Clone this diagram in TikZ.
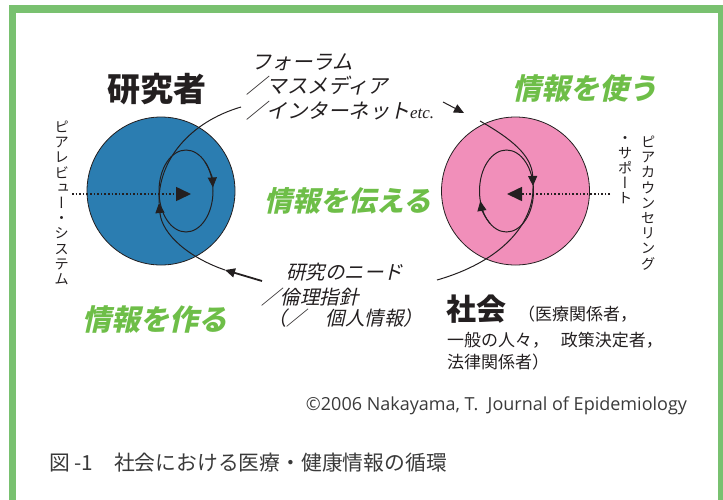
\documentclass[tikz,border=0pt]{standalone}
\usepackage{fontspec}
\usetikzlibrary{arrows.meta,shapes.geometric}
\newfontfamily\cjk{Noto Sans CJK JP}
\newfontfamily\cjksl[FakeSlant=0.22]{Noto Sans CJK JP}
\newfontfamily\cjkv[RawFeature=+vert]{Noto Sans CJK JP}
\newfontfamily\latsans{Open Sans}
\newfontfamily\latserif{Liberation Serif}
\definecolor{ink}{HTML}{231F20}
\definecolor{blueC}{HTML}{2B7DB1}
\definecolor{pinkC}{HTML}{F18FBA}
\definecolor{greenT}{HTML}{6EBE48}
\definecolor{frameG}{HTML}{79C170}
\definecolor{capgray}{HTML}{3A3A3A}
\tikzset{
  bigcircle/.style={circle, draw=ink, line width=0.8pt, minimum size=148pt, inner sep=0pt},
  loop/.style={ellipse, draw=ink, line width=1pt, minimum width=54pt, minimum height=82pt, inner sep=0pt},
  curve/.style={draw=ink, line width=1pt},
  tip/.style={-{Triangle[length=10pt,width=9pt]}},
  dotline/.style={draw=ink, line width=1.6pt, dash pattern=on 1.6pt off 2pt, -{Triangle[length=15pt,width=14pt]}},
  greentext/.style={font=\cjksl\bfseries\fontsize{29}{29}\selectfont, text=greenT},
  slanttext/.style={anchor=base west, font=\cjksl\fontsize{20.5}{24}\selectfont},
  needtext/.style={anchor=base west, font=\cjksl\fontsize{19.5}{23}\selectfont},
  vtext/.style={anchor=north, align=center, font=\cjkv\fontsize{14.5}{15.2}\selectfont},
  soctext/.style={anchor=base west, font=\cjk\fontsize{17}{22}\selectfont},
}
\begin{document}
\begin{tikzpicture}[x=1pt,y=-1pt, every node/.style={inner sep=0pt, outer sep=0pt, text=ink}]
\useasboundingbox (0,0) rectangle (723,499);
\clip (0,0) rectangle (723,499);
% frame
\draw[frameG, line width=7.5pt] (12.5,9) rectangle (722,503.5);

% circles
\node[bigcircle, fill=blueC] (blue) at (161,191) {};
\node[bigcircle, fill=pinkC] (pink) at (515.5,191) {};
\node[loop] (bloop) at (186,191) {};
\node[loop] (ploop) at (506.5,191) {};

% arrows on inner loops
\draw[curve, tip] ([shift={(186,191)}]-45:27 and 41) arc[start angle=-45, end angle=-5, x radius=27, y radius=41];
\draw[curve, tip] ([shift={(506.5,191)}]128:27 and 41) arc[start angle=128, end angle=166, x radius=27, y radius=41];

% dotted arrows
\coordinate (bpeer) at (72,194);
\coordinate (btip) at (191,194);
\coordinate (ppeer) at (610,194);
\coordinate (ptip) at (507,194);
\draw[dotline] (bpeer) -- (btip);
\draw[dotline] (ppeer) -- (ptip);

% outgoing from researchers
\coordinate (b1) at (225,270);
\coordinate (b2) at (159,203);
\coordinate (b3) at (241,107);
\draw[curve, tip] (b1) .. controls (190,258) and (162,235) .. (b2);
\draw[curve] (b2) .. controls (158,160) and (190,122) .. (b3);
\coordinate (e1) at (443,102);
\coordinate (e2) at (464,113);
\draw[curve, tip] (e1) -- (e2);

% society loop
\coordinate (p1) at (480,121);
\coordinate (p2) at (533,186);
\coordinate (p3) at (437,280);
\draw[curve, tip] (p1) .. controls (510,138) and (532,155) .. (p2);
\draw[curve] (p2) .. controls (534,225) and (500,262) .. (p3);
\coordinate (n1) at (262,281);
\draw[draw=ink, line width=1.8pt, tip] (n1) -- (b1);

% titles
\node[anchor=base, font=\cjk\bfseries\fontsize{33}{33}\selectfont] (res) at (157,101.5) {研究者};
\node[anchor=base west, font=\cjk\bfseries\fontsize{30}{30}\selectfont] (soc) at (446,320) {社会};
\node[soctext] (soc1) at (518,320) {（医療関係者，};
\node[soctext] (soc2) at (447,346.5) {一般の人々，\hspace{12pt}政策決定者，};
\node[soctext] (soc3) at (447,368.5) {法律関係者）};

% green labels
\node[greentext] (use) at (585,88) {情報を使う};
\node[greentext, font=\cjksl\bfseries\fontsize{28}{28}\selectfont] (tell) at (348,201) {情報を伝える};
\node[greentext] (make) at (155,320) {情報を作る};

% media text
\node[slanttext] (f1) at (251,69) {フォーラム};
\node[slanttext] (f2) at (246,93.5) {／マスメディア};
\node[slanttext] (f3) at (246,118.5) {／インターネット{\latserif\itshape\fontsize{17}{17}\selectfont etc.}};

% needs text
\node[needtext] (n1t) at (286,279) {研究のニード};
\node[needtext] (n2t) at (261,304) {／倫理指針};
\node[needtext] (n3t) at (267,325) {（／　個人情報）};

% vertical texts
\node[vtext] (peer) at (61.5,121) {ピ\\ア\\レ\\ビ\\ュ\\ー\\・\\シ\\ス\\テ\\ム};
\node[vtext] (pc1) at (648,136) {ピ\\ア\\カ\\ウ\\ン\\セ\\リ\\ン\\グ};
\node[vtext] (pc2) at (625,136) {・\\サ\\ポ\\ー\\ト};

% credit and caption
\node[anchor=base east, font=\latsans\fontsize{18}{18}\selectfont, text=capgray] (cred) at (687,410) {©2006 Nakayama, T.\ \ Journal of Epidemiology};
\node[anchor=base west, font=\cjk\fontsize{20.8}{20.8}\selectfont, text=capgray] (cap) at (49,470.5) {図 -1　社会における医療・健康情報の循環};
\end{tikzpicture}
\end{document}
